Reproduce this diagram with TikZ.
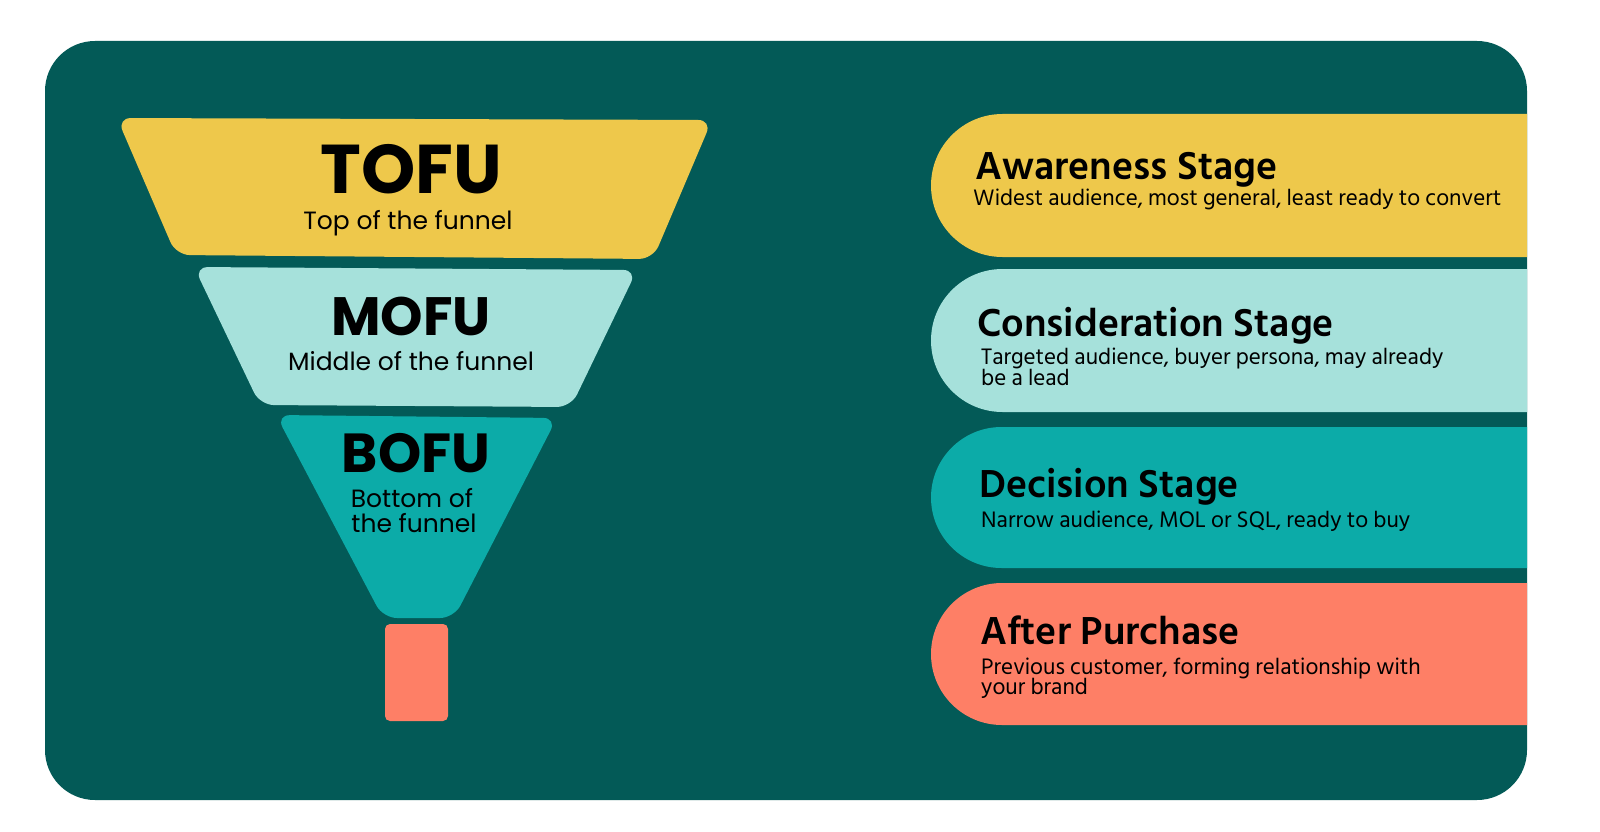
\documentclass[tikz,border=0pt]{standalone}
\usepackage{fontspec}
\setmainfont{Poppins}
\newfontfamily\hindf{Hind Siliguri}[BoldFont={Hind Siliguri SemiBold}]
\definecolor{bgteal}{HTML}{035A57}
\definecolor{cyellow}{HTML}{EEC84B}
\definecolor{clight}{HTML}{A6E1DB}
\definecolor{cteal}{HTML}{0CABA8}
\definecolor{ccoral}{HTML}{FE7F66}
\tikzset{
  big/.style={font=\fontsize{54}{54}\selectfont\bfseries, inner sep=0pt, anchor=base},
  sub/.style={font=\fontsize{25}{28}\selectfont, inner sep=0pt, anchor=base},
  head/.style={font=\hindf\fontsize{40}{40}\selectfont\bfseries, inner sep=0pt, anchor=base west},
  desc/.style={font=\hindf\fontsize{23}{23}\selectfont, inner sep=0pt, anchor=base west},
  funnelpart/.style={rounded corners=14pt},
}
\begin{document}
\begin{tikzpicture}[x=1pt,y=-1pt]
\useasboundingbox[fill=white] (0,0) rectangle (1600,832);
\fill[bgteal, rounded corners=50pt] (45,41) rectangle (1527,800);
% funnel
\fill[cyellow, funnelpart] (117,118) -- (712,120) -- (653,259) -- (176,255) -- cycle;
\fill[clight, funnelpart] (194,267) -- (637,270) -- (571,407) -- (260,405) -- cycle;
\fill[cteal, funnelpart] (276,415) -- (557,418) -- (454,618) -- (383,618) -- cycle;
\fill[ccoral, rounded corners=5pt] (385,624) rectangle (448,721);
\node[big, font=\fontsize{69}{69}\selectfont\bfseries] (tofu) at (411,193) {TOFU};
\node[sub] (tofut) at (408,229) {Top of the funnel};
\node[big] (mofu) at (411,335) {MOFU};
\node[sub] (mofut) at (411,370) {Middle of the funnel};
\node[big, font=\fontsize{55}{55}\selectfont\bfseries] (bofu) at (416,472) {BOFU};
\node[sub] (bofut1) at (412,507) {Bottom of};
\node[sub] (bofut2) at (414,532) {the funnel};
% bars
\foreach \t/\b/\c in {114/257/cyellow, 269/412/clight, 427/568/cteal, 583/725/ccoral}{
  \pgfmathsetmacro{\r}{(\b-\t)/2}
  \fill[\c] (1527,\t) -- (931+\r,\t) arc[start angle=90, end angle=270, radius=\r pt] -- (1527,\b) -- cycle;
}
\node[head] (h1) at (975,179) {Awareness Stage};
\node[desc] (d1) at (973,205) {Widest audience, most general, least ready to convert};
\node[head] (h2) at (977,336) {Consideration Stage};
\node[desc] (d2a) at (981,364) {Targeted audience, buyer persona, may already};
\node[desc] (d2b) at (981,385) {be a lead};
\node[head] (h3) at (979,497) {Decision Stage};
\node[desc] (d3) at (981,527) {Narrow audience, MOL or SQL, ready to buy};
\node[head] (h4) at (980,644) {After Purchase};
\node[desc] (d4a) at (981,674) {Previous customer, forming relationship with};
\node[desc] (d4b) at (981,694) {your brand};
\end{tikzpicture}
\end{document}
